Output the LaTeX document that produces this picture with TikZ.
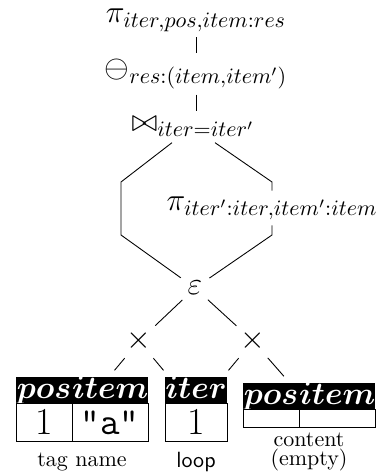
\documentclass[tikz,border=0pt]{standalone}
\usetikzlibrary{positioning, calc, fit}

\begin{document}
\begin{tikzpicture}[
        x=0.4545pt, y=-0.4545pt,
        op/.style={inner sep=2.5pt, font=\Large},
        ring/.style={circle, inner sep=0pt, font=\Large},
        hd/.style={fill=black, text=white, inner sep=0pt, outer sep=0pt, text height=9.7pt, text depth=2.2pt, font=\Large\boldmath},
        cell/.style={draw, inner sep=0pt, outer sep=0pt, font=\LARGE},
        tab/.style={inner sep=0pt, outer sep=3pt},
        lbl/.style={align=center}
    ]
        \useasboundingbox (0,0) rectangle (379,472);

        % plan, top to bottom
        \node[op] (proj) at (196,20) {$\pi_{iter,pos,item:res}$};
        \node[op] (diff) at (196,74) {$\ominus_{res:(item,item')}$};
        \node[op] (join) at (193,127) {$\bowtie_{iter=iter'}$};
        \node[op] (inproj) at (272,208) {$\pi_{iter':iter,item':item}$};
        \node[ring, minimum size=15.5pt] (eps) at (195,288) {$\varepsilon$};
        \node[ring, minimum size=20pt] (xl) at (139,341) {$\times$};
        \node[ring, minimum size=20pt] (xr) at (253,341) {$\times$};

        \coordinate (hexL1) at (121,182);
        \coordinate (hexL2) at (121,235);
        \coordinate (hexR1) at (272,182);
        \coordinate (hexR2) at (272,235);

        % tables
        \node[hd, minimum width=25.5pt] (tagpos) at (44,390) {$pos$};
        \node[hd, minimum width=34.5pt, right=0pt of tagpos] (tagitem) {$item$};
        \node[cell, minimum width=25.5pt, minimum height=17.5pt, below=0pt of tagpos] (tagone) {1};
        \node[cell, minimum width=34.5pt, minimum height=17.5pt, below=0pt of tagitem] (taga) {\texttt{"a"}};
        \node[tab, fit=(tagpos) (taga)] (tag) {};

        \node[hd, minimum width=28.2pt] (loopiter) at (196,390) {$iter$};
        \node[cell, minimum width=28.2pt, minimum height=17.5pt, below=0pt of loopiter] (loopone) {1};
        \node[tab, fit=(loopiter) (loopone)] (loop) {};

        \node[hd, minimum width=25.5pt] (cntpos) at (271,396) {$pos$};
        \node[hd, minimum width=34.5pt, right=0pt of cntpos] (cntitem) {$item$};
        \node[cell, minimum width=25.5pt, minimum height=8.2pt, below=0pt of cntpos] (cntone) {};
        \node[cell, minimum width=34.5pt, minimum height=8.2pt, below=0pt of cntitem] (cnttwo) {};
        \node[tab, fit=(cntpos) (cnttwo)] (cnt) {};

        \node[lbl] (taglbl) at (82,462) {tag name};
        \node[lbl] (looplbl) at (196,462) {\textsf{loop}};
        \node[lbl] (cntlbl) at (309,452) {content\\[-3pt](empty)};

        % edges
        \draw (proj) -- (diff);
        \draw (diff.south) -- (diff.south |- join.north);
        \draw ($(join.south)+(-21,0)$) -- (hexL1) -- (hexL2) -- (eps);
        \draw ($(join.south)+(22,0)$) -- (hexR1) -- (inproj.north);
        \draw (inproj.south) -- (hexR2) -- (eps);
        \draw (eps) -- (xl);
        \draw (eps) -- (xr);
        \draw (xl) -- (tag);
        \draw (xl) -- (loop);
        \draw (xr) -- (loop);
        \draw (xr) -- (cnt);
    \end{tikzpicture}
\end{document}
